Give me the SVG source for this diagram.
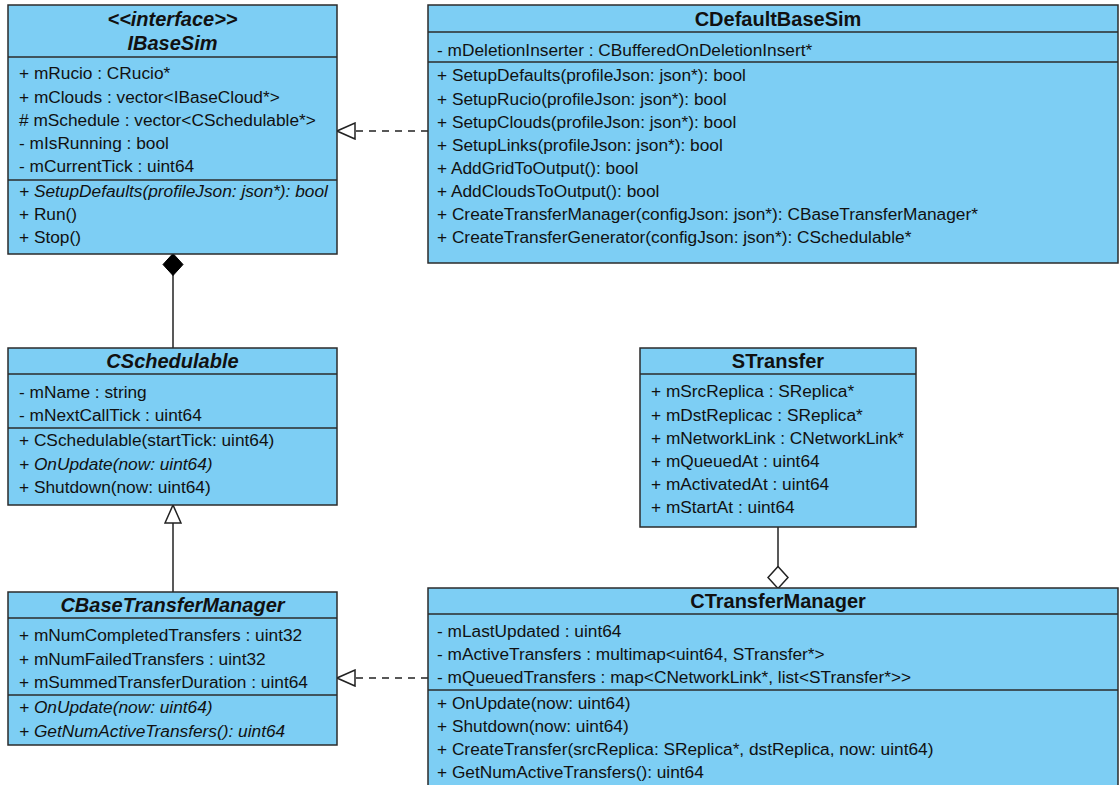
<svg xmlns="http://www.w3.org/2000/svg" width="1119" height="785" viewBox="0 0 1119 785">
  <style>
    .box { fill: #7dcef4; stroke: #2b2b2b; stroke-width: 1.5; }
    .sep { stroke: #2b2b2b; stroke-width: 1.5; }
    .title { font-family: "Liberation Sans", Arial, sans-serif; font-size: 20px; font-weight: bold; fill: #111; text-anchor: middle; }
    .abs { font-style: italic; }
    .m { font-family: "Liberation Sans", Arial, sans-serif; font-size: 17.3px; fill: #111; }
    .it { font-style: italic; }
    .line { fill: none; stroke: #222; stroke-width: 1.5; }
    .dash { stroke-dasharray: 7 6; }
  </style>
  <defs>
    <marker id="hollowTri" markerUnits="userSpaceOnUse" viewBox="0 0 20 18" markerWidth="20" markerHeight="18" refX="19" refY="9" orient="auto">
      <path d="M1,1 L19,9 L1,17 Z" fill="#fff" stroke="#222" stroke-width="1.5"/>
    </marker>
    <marker id="filledDiamond" markerUnits="userSpaceOnUse" viewBox="0 0 24 22" markerWidth="24" markerHeight="22" refX="22.5" refY="11" orient="auto">
      <path d="M1,11 L12,1 L23,11 L12,21 Z" fill="#000" stroke="#000" stroke-width="1"/>
    </marker>
    <marker id="hollowDiamond" markerUnits="userSpaceOnUse" viewBox="0 0 24 22" markerWidth="24" markerHeight="22" refX="22.5" refY="11" orient="auto">
      <path d="M1,11 L12,1 L23,11 L12,21 Z" fill="#fff" stroke="#222" stroke-width="1.5"/>
    </marker>
  </defs>

  <rect width="1119" height="785" fill="#fff"/>

  <!-- connectors -->
  <g id="connectors">
    <path class="line dash" d="M428,131 L337,131" marker-end="url(#hollowTri)"/>
    <path class="line" d="M173,348 L173,254" marker-end="url(#filledDiamond)"/>
    <path class="line" d="M173,592 L173,505" marker-end="url(#hollowTri)"/>
    <path class="line dash" d="M428,678 L337,678" marker-end="url(#hollowTri)"/>
    <path class="line" d="M778,527 L778,588" marker-end="url(#hollowDiamond)"/>
  </g>

  <!-- IBaseSim -->
  <g id="IBaseSim">
    <rect class="box" x="8" y="5" width="329" height="249"/>
    <line class="sep" x1="8" y1="57" x2="337" y2="57"/>
    <line class="sep" x1="8" y1="180" x2="337" y2="180"/>
    <text class="title abs" x="172.5" y="26">&lt;&lt;interface&gt;&gt;</text>
    <text class="title abs" x="172.5" y="50">IBaseSim</text>
    <text class="m" x="19" y="79">+ mRucio : CRucio*</text>
    <text class="m" x="19" y="103">+ mClouds : vector&lt;IBaseCloud*&gt;</text>
    <text class="m" x="19" y="126"># mSchedule : vector&lt;CSchedulable*&gt;</text>
    <text class="m" x="19" y="149">- mIsRunning : bool</text>
    <text class="m" x="19" y="172">- mCurrentTick : uint64</text>
    <text class="m it" x="19" y="197">+ SetupDefaults(profileJson: json*): bool</text>
    <text class="m" x="19" y="220">+ Run()</text>
    <text class="m" x="19" y="243">+ Stop()</text>
  </g>

  <!-- CDefaultBaseSim -->
  <g id="CDefaultBaseSim">
    <rect class="box" x="428" y="5" width="690" height="258"/>
    <line class="sep" x1="428" y1="32" x2="1118" y2="32"/>
    <line class="sep" x1="428" y1="62" x2="1118" y2="62"/>
    <text class="title" x="778" y="26">CDefaultBaseSim</text>
    <text class="m" x="437" y="56">- mDeletionInserter : CBufferedOnDeletionInsert*</text>
    <text class="m" x="437" y="81">+ SetupDefaults(profileJson: json*): bool</text>
    <text class="m" x="437" y="105">+ SetupRucio(profileJson: json*): bool</text>
    <text class="m" x="437" y="128">+ SetupClouds(profileJson: json*): bool</text>
    <text class="m" x="437" y="151">+ SetupLinks(profileJson: json*): bool</text>
    <text class="m" x="437" y="174">+ AddGridToOutput(): bool</text>
    <text class="m" x="437" y="197">+ AddCloudsToOutput(): bool</text>
    <text class="m" x="437" y="220">+ CreateTransferManager(configJson: json*): CBaseTransferManager*</text>
    <text class="m" x="437" y="243">+ CreateTransferGenerator(configJson: json*): CSchedulable*</text>
  </g>

  <!-- CSchedulable -->
  <g id="CSchedulable">
    <rect class="box" x="8" y="348" width="329" height="157"/>
    <line class="sep" x1="8" y1="374" x2="337" y2="374"/>
    <line class="sep" x1="8" y1="428" x2="337" y2="428"/>
    <text class="title abs" x="172.5" y="368">CSchedulable</text>
    <text class="m" x="19" y="398">- mName : string</text>
    <text class="m" x="19" y="421">- mNextCallTick : uint64</text>
    <text class="m" x="19" y="446">+ CSchedulable(startTick: uint64)</text>
    <text class="m it" x="19" y="470">+ OnUpdate(now: uint64)</text>
    <text class="m" x="19" y="493">+ Shutdown(now: uint64)</text>
  </g>

  <!-- CBaseTransferManager -->
  <g id="CBaseTransferManager">
    <rect class="box" x="8" y="592" width="329" height="153"/>
    <line class="sep" x1="8" y1="618" x2="337" y2="618"/>
    <line class="sep" x1="8" y1="695" x2="337" y2="695"/>
    <text class="title abs" x="172.5" y="612">CBaseTransferManager</text>
    <text class="m" x="19" y="641">+ mNumCompletedTransfers : uint32</text>
    <text class="m" x="19" y="665">+ mNumFailedTransfers : uint32</text>
    <text class="m" x="19" y="688">+ mSummedTransferDuration : uint64</text>
    <text class="m it" x="19" y="713">+ OnUpdate(now: uint64)</text>
    <text class="m it" x="19" y="737">+ GetNumActiveTransfers(): uint64</text>
  </g>

  <!-- STransfer -->
  <g id="STransfer">
    <rect class="box" x="640" y="348" width="276" height="179"/>
    <line class="sep" x1="640" y1="374" x2="916" y2="374"/>
    <text class="title" x="778" y="368">STransfer</text>
    <text class="m" x="651" y="397">+ mSrcReplica : SReplica*</text>
    <text class="m" x="651" y="421">+ mDstReplicac : SReplica*</text>
    <text class="m" x="651" y="444">+ mNetworkLink : CNetworkLink*</text>
    <text class="m" x="651" y="467">+ mQueuedAt : uint64</text>
    <text class="m" x="651" y="490">+ mActivatedAt : uint64</text>
    <text class="m" x="651" y="513">+ mStartAt : uint64</text>
  </g>

  <!-- CTransferManager -->
  <g id="CTransferManager">
    <rect class="box" x="428" y="588" width="690" height="210"/>
    <line class="sep" x1="428" y1="614" x2="1118" y2="614"/>
    <line class="sep" x1="428" y1="690" x2="1118" y2="690"/>
    <text class="title" x="778" y="608">CTransferManager</text>
    <text class="m" x="437" y="637">- mLastUpdated : uint64</text>
    <text class="m" x="437" y="660">- mActiveTransfers : multimap&lt;uint64, STransfer*&gt;</text>
    <text class="m" x="437" y="683">- mQueuedTransfers : map&lt;CNetworkLink*, list&lt;STransfer*&gt;&gt;</text>
    <text class="m" x="437" y="709">+ OnUpdate(now: uint64)</text>
    <text class="m" x="437" y="732">+ Shutdown(now: uint64)</text>
    <text class="m" x="437" y="755">+ CreateTransfer(srcReplica: SReplica*, dstReplica, now: uint64)</text>
    <text class="m" x="437" y="778">+ GetNumActiveTransfers(): uint64</text>
  </g>
</svg>
